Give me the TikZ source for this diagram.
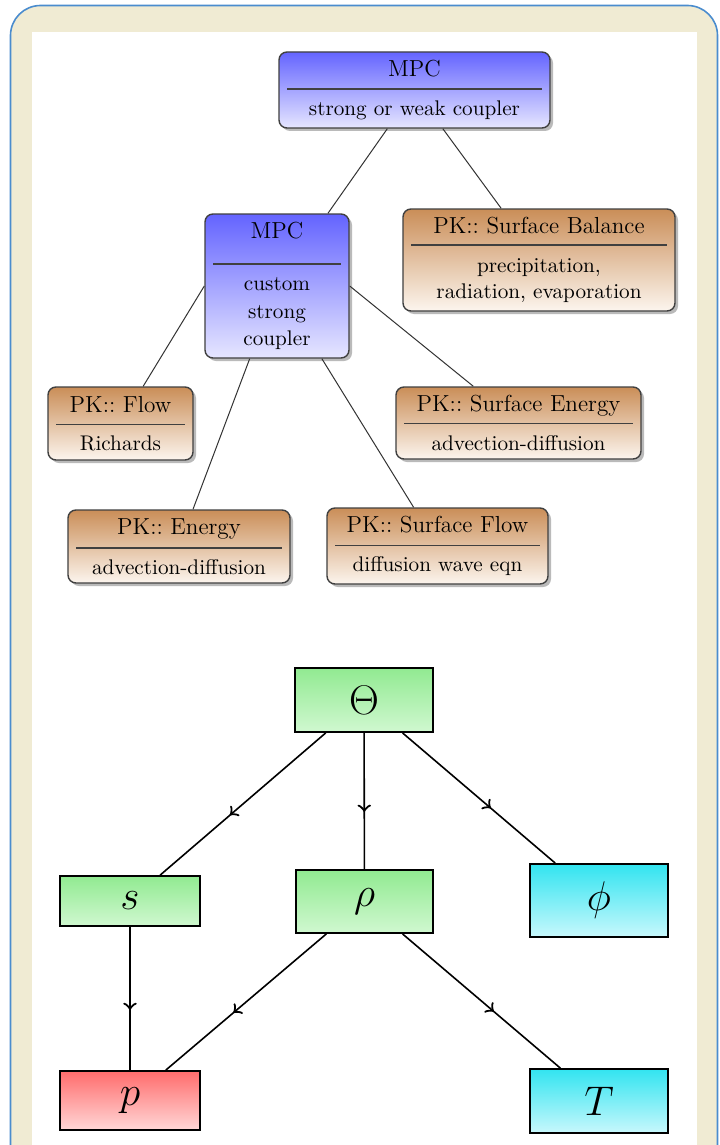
\documentclass[tikz,border=0pt]{standalone}
\usetikzlibrary{shadows,decorations.markings}
\definecolor{beige}{RGB}{240,235,211}
\definecolor{frameblue}{RGB}{74,140,206}
\definecolor{mpctop}{RGB}{100,100,255}
\definecolor{mpcbot}{RGB}{230,230,255}
\definecolor{pktop}{RGB}{202,142,88}
\definecolor{pkbot}{RGB}{252,245,238}
\definecolor{grtop}{RGB}{145,234,145}
\definecolor{grbot}{RGB}{208,248,208}
\definecolor{cytop}{RGB}{50,228,240}
\definecolor{cybot}{RGB}{200,248,252}
\definecolor{rdtop}{RGB}{255,108,108}
\definecolor{rdbot}{RGB}{255,215,215}
\newcommand{\twopart}[5]{{\fontsize{11.6}{12}\selectfont #1}\\[#2]{\color{black!75}\rule{#3}{0.7pt}}\\[#4]#5}
\tikzset{
  box/.style={draw=black!75, line width=0.7pt, rounded corners=4pt, align=center,
    inner sep=0pt, font=\fontsize{10.6}{12}\selectfont,
    drop shadow={shadow xshift=1.5pt, shadow yshift=-1.5pt, opacity=0.45, fill=black!60}},
  mpcbox/.style={box, top color=mpctop, bottom color=mpcbot},
  pkbox/.style={box, top color=pktop, bottom color=pkbot},
  var/.style={draw=black, line width=0.9pt, inner sep=0pt, font=\fontsize{22}{26}\selectfont},
  grbox/.style={var, top color=grtop, bottom color=grbot},
  cybox/.style={var, top color=cytop, bottom color=cybot},
  rdbox/.style={var, top color=rdtop, bottom color=rdbot},
  link/.style={draw=black!80, line width=0.5pt},
  flowarrow/.style={draw=black, line width=0.8pt, postaction={decorate},
    decoration={markings, mark=at position 0.58 with {\arrow[scale=1.4]{>}}}}
}
\begin{document}
\begin{tikzpicture}[x=0.5pt,y=-0.5pt]
\useasboundingbox (0,0) rectangle (719,1145);
% frame
\draw[draw=frameblue, line width=0.8pt, fill=beige, rounded corners=15pt] (10.5,5.5) rectangle (717.5,1260);
\fill[white] (32,32) rectangle (697,1150);

% upper tree
\node[mpcbox, minimum width=135.5pt, minimum height=38pt] (mpc1) at (414.5,90)
  {\twopart{MPC}{-5.25pt}{127.5pt}{0.95pt}{strong or weak coupler}};
\node[mpcbox, minimum width=72pt, minimum height=72pt] (mpc2) at (277,286)
  {\twopart{MPC}{1.25pt}{64pt}{1pt}{custom\\[1.75pt]strong\\[1.75pt]coupler}};
\node[pkbox, minimum width=136pt, minimum height=51pt] (sb) at (539,260)
  {\twopart{PK::\ Surface Balance}{-6pt}{128pt}{1.4pt}{precipitation,\\[1pt]radiation, evaporation}};
\node[pkbox, minimum width=72.5pt, minimum height=36.5pt] (flow) at (120.5,423.5)
  {\twopart{PK::\ Flow}{-5.75pt}{64.5pt}{0.6pt}{Richards}};
\node[pkbox, minimum width=122.5pt, minimum height=36pt] (se) at (518.5,423)
  {\twopart{PK::\ Surface Energy}{-5.75pt}{114.5pt}{0.95pt}{advection-diffusion}};
\node[pkbox, minimum width=111pt, minimum height=36.5pt] (en) at (179,546.5)
  {\twopart{PK::\ Energy}{-4.75pt}{103pt}{0.95pt}{advection-diffusion}};
\node[pkbox, minimum width=110.5pt, minimum height=38pt] (sf) at (437.5,546)
  {\twopart{PK::\ Surface Flow}{-5.25pt}{102.5pt}{0.95pt}{diffusion wave eqn}};

\draw[link] (mpc1) -- (mpc2);
\draw[link] (mpc1) -- (sb);
\draw[link] (mpc2.west) -- (flow);
\draw[link] (mpc2) -- (en);
\draw[link] (mpc2) -- (sf);
\draw[link] (mpc2.east) -- (se);

% lower graph
\node[grbox, minimum width=69pt, minimum height=32pt] (theta) at (364,700) {$\Theta$};
\node[grbox, minimum width=70pt, minimum height=25pt] (s) at (130,901) {$s$};
\node[grbox, minimum width=68.5pt, minimum height=31.5pt] (rho) at (364.5,901.5) {$\rho$};
\node[cybox, minimum width=69pt, minimum height=36.5pt] (phi) at (599,900.5) {$\phi$};
\node[rdbox, minimum width=70pt, minimum height=29.5pt] (p) at (130,1100.5) {$p$};
\node[cybox, minimum width=69pt, minimum height=32pt] (T) at (599,1101) {$T$};

\draw[flowarrow] (theta) -- (s);
\draw[flowarrow] (theta) -- (rho);
\draw[flowarrow] (theta) -- (phi);
\draw[flowarrow] (s) -- (p);
\draw[flowarrow] (rho) -- (p);
\draw[flowarrow] (rho) -- (T);
\end{tikzpicture}
\end{document}
